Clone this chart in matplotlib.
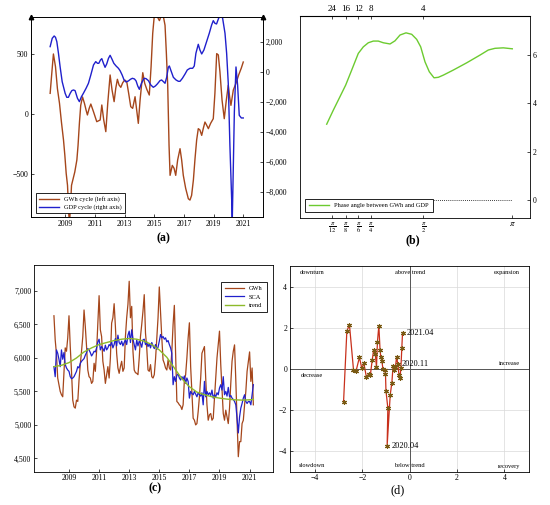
import matplotlib
matplotlib.use('Agg')
import matplotlib.pyplot as plt
from matplotlib.ticker import FuncFormatter

plt.rcParams['font.family'] = ['Liberation Serif', 'DejaVu Serif']
plt.rcParams['mathtext.fontset'] = 'stix'

GWH_C = '#A5461B'
BLUE = '#2020CC'
GREEN_B = '#6CCB30'
GREEN_T = '#8DBA2A'

# ---------------- (a) cycles ----------------
gwh_cyc_t = [2007.99, 2008.10, 2008.21, 2008.35, 2008.48, 2008.62, 2008.75, 2008.89, 2008.98, 2009.07,
             2009.16, 2009.25, 2009.30, 2009.38, 2009.43, 2009.65, 2009.79, 2009.87, 2009.96, 2010.05,
             2010.17, 2010.30, 2010.41, 2010.50, 2010.62, 2010.73, 2010.91, 2011.13, 2011.36, 2011.47,
             2011.60, 2011.74, 2011.87, 2012.03, 2012.16, 2012.30, 2012.41, 2012.52, 2012.63, 2012.75,
             2012.88, 2013.02, 2013.15, 2013.28, 2013.42, 2013.55, 2013.71, 2013.82, 2013.93, 2014.05,
             2014.23, 2014.36, 2014.50, 2014.67, 2014.79, 2014.90, 2014.99, 2015.08, 2015.21, 2015.35,
             2015.50, 2015.62, 2015.73, 2015.82, 2015.91, 2016.00, 2016.07, 2016.22, 2016.34, 2016.45,
             2016.58, 2016.74, 2016.85, 2016.96, 2017.12, 2017.30, 2017.41, 2017.52, 2017.64, 2017.75,
             2017.86, 2017.97, 2018.08, 2018.20, 2018.31, 2018.42, 2018.53, 2018.65, 2018.80, 2018.98,
             2019.09, 2019.21, 2019.32, 2019.43, 2019.57, 2019.72, 2019.86, 2019.99, 2020.08, 2020.17,
             2020.33, 2020.51, 2020.69, 2020.87, 2021.00]
gwh_cyc_v = [172, 339, 500, 394, 211, 89, -67, -217, -344, -494,
             -594, -844, -900, -717, -594, -483, -383, -261, -78, 72,
             142, 89, 33, -8, 47, 83, 19, -64, -50, 75,
             -50, -147, 89, 325, 200, 103, 214, 289, 242, 222,
             261, 283, 269, 172, 61, 47, 144, 33, -78, 117,
             344, 256, 206, 158, 394, 672, 797, 840, 811, 778,
             825, 811, 739, 506, 239, -261, -511, -428, -453, -511,
             -383, -289, -383, -511, -619, -706, -717, -678, -550, -372,
             -217, -122, -133, -178, -119, -67, -92, -122, -78, -39,
             172, 503, 492, 350, 117, -39, 117, 239, 144, 72,
             200, 256, 325, 383, 433]

gdp_cyc_t = [2007.99, 2008.13, 2008.26, 2008.35, 2008.44, 2008.55, 2008.66, 2008.80, 2009.00, 2009.11,
             2009.22, 2009.34, 2009.45, 2009.56, 2009.67, 2009.83, 2009.96, 2010.10, 2010.23, 2010.41,
             2010.57, 2010.73, 2010.91, 2011.06, 2011.18, 2011.27, 2011.38, 2011.47, 2011.58, 2011.69,
             2011.80, 2011.92, 2012.03, 2012.16, 2012.28, 2012.43, 2012.59, 2012.70, 2012.84, 2012.97,
             2013.10, 2013.26, 2013.40, 2013.53, 2013.67, 2013.78, 2013.89, 2014.00, 2014.14, 2014.32,
             2014.45, 2014.61, 2014.77, 2014.94, 2015.08, 2015.21, 2015.39, 2015.50, 2015.62, 2015.73,
             2015.84, 2015.95, 2016.02, 2016.13, 2016.29, 2016.47, 2016.63, 2016.74, 2016.90, 2017.08,
             2017.23, 2017.41, 2017.59, 2017.70, 2017.81, 2017.97, 2018.08, 2018.20, 2018.35, 2018.53,
             2018.71, 2018.87, 2018.98, 2019.09, 2019.20, 2019.34, 2019.48, 2019.61, 2019.77, 2019.88,
             2019.99, 2020.10, 2020.22, 2020.26, 2020.33, 2020.40, 2020.51, 2020.62, 2020.73, 2020.87,
             2021.00]
gdp_cyc_v = [1711, 2267, 2422, 2333, 2044, 1267, 378, -622, -1400, -1667,
             -1667, -1400, -1222, -1178, -1222, -1733, -1956, -1622, -1400, -1067,
             -733, -178, 489, 711, 600, 600, 822, 911, 600, 333,
             556, 933, 1133, 867, 600, 422, 267, 111, -178, -511,
             -644, -578, -467, -400, -444, -578, -911, -1133, -733, -400,
             -422, -556, -844, -1000, -911, -778, -556, -511, -622, -733,
             -333, 333, 422, 111, -333, -511, -600, -600, -400, -111,
             156, 267, 267, 422, 1267, 1867, 1489, 1222, 1489, 2044,
             2600, 3156, 3444, 3267, 3222, 3600, 3822, 3600, 2600, 1267,
             -733, -4867, -8500, -9850, -6300, -2644, 356, -867, -2867, -3044,
             -3044]

# ---------------- (b) phase angle ----------------
phase_x = [46.7, 53.3, 60.0, 65.7, 71.7, 78.3, 83.3, 88.3, 93.3, 98.3,
           103.3, 110.0, 115.0, 120.0, 126.0, 131.7, 136.7, 140.7, 145.0, 149.3,
           154.0, 158.3, 163.3, 173.3, 186.7, 200.0, 208.3, 215.0, 223.3, 232.3]
phase_y = [3.14, 3.72, 4.28, 4.76, 5.38, 6.07, 6.34, 6.51, 6.58, 6.58,
           6.51, 6.46, 6.59, 6.83, 6.92, 6.86, 6.65, 6.34, 5.72, 5.31,
           5.06, 5.08, 5.17, 5.38, 5.68, 6.00, 6.21, 6.28, 6.30, 6.26]
freq_tick_pos = [52.3, 65.7, 78.3, 91.0, 143.3, 232.3]
freq_tick_labels = [r'$\frac{\pi}{12}$', r'$\frac{\pi}{8}$', r'$\frac{\pi}{6}$',
                    r'$\frac{\pi}{4}$', r'$\frac{\pi}{2}$', r'$\pi$']
period_tick_labels = ['24', '16', '12', '8', '4']

# ---------------- (c) monthly series ----------------
gwh_monthly = [
    6630, 6270, 6060, 5700, 5600, 5500, 5450, 5420, 5800, 6150, 6100, 6300,   # 2008
    6630, 6170, 5800, 5370, 5270, 5250, 5370, 5350, 5670, 5900, 6100, 6320,   # 2009
    6716, 6470, 6170, 5820, 5720, 5700, 5620, 5650, 5920, 5800, 6100, 6500,   # 2010
    6930, 6420, 6320, 5950, 5820, 5620, 5750, 5870, 5700, 6000, 6520, 6600,   # 2011
    6810, 6470, 6070, 5850, 5770, 5870, 5950, 5800, 5850, 6320, 6600, 6800,   # 2012
    7145, 6600, 6770, 6100, 5820, 5780, 5770, 5750, 6000, 6320, 6500, 6700,   # 2013
    6945, 6370, 6150, 5820, 5800, 5900, 5720, 5700, 5750, 5980, 6300, 6600,   # 2014
    7060, 6670, 6300, 5970, 5920, 5850, 5820, 5970, 5850, 5820, 6100, 6500,   # 2015
    6785, 6070, 5350, 5330, 5300, 5280, 5230, 5300, 5670, 5750, 6000, 6300,   # 2016
    6525, 5870, 5500, 5100, 5070, 5000, 5020, 5200, 5420, 5700, 6070, 6120,   # 2017
    6170, 5700, 5300, 5070, 5150, 5170, 5070, 5100, 5400, 5700, 6000, 6200,   # 2018
    6400, 5900, 5520, 5170, 5070, 5220, 5120, 5020, 5250, 5620, 5950, 6100,   # 2019
    6195, 5670, 5070, 4525, 4750, 4750, 5020, 5070, 5300, 5500, 5800, 5950,   # 2020
    6090, 5650, 5850, 5300,                                                   # 2021
]
sca_monthly = [
    5870, 5720, 6120, 6070, 5980, 5870, 6120, 5980, 6080, 5900, 5850, 5820,   # 2008
    5800, 5720, 5690, 5700, 5720, 5760, 5800, 5870, 5850, 5920, 5950, 5970,   # 2009
    5990, 6040, 6080, 6140, 6120, 6080, 6030, 6060, 6100, 6090, 6150, 6240,   # 2010
    6280, 6120, 6170, 6140, 6100, 6190, 6120, 6150, 6200, 6180, 6240, 6150,   # 2011
    6200, 6290, 6180, 6340, 6230, 6200, 6250, 6180, 6230, 6270, 6200, 6340,   # 2012
    6400, 6230, 6420, 6280, 6200, 6120, 6270, 6180, 6250, 6220, 6160, 6270,   # 2013
    6280, 6200, 6240, 6170, 6210, 6150, 6230, 6180, 6140, 6200, 6130, 6160,   # 2014
    6250, 6350, 6300, 6320, 6280, 6300, 6240, 6260, 6200, 6150, 6070, 5600,   # 2015
    5720, 5650, 5740, 5760, 5700, 5670, 5720, 5680, 5730, 5620, 5700, 5650,   # 2016
    5400, 5500, 5470, 5450, 5500, 5460, 5420, 5480, 5450, 5430, 5480, 5300,   # 2017
    5650, 5420, 5500, 5450, 5480, 5440, 5520, 5400, 5450, 5420, 5480, 5450,   # 2018
    5550, 5600, 5520, 5720, 5450, 5500, 5430, 5560, 5420, 5440, 5400, 5380,   # 2019
    5350, 5300, 5100, 4880, 5120, 5250, 5320, 5400, 5450, 5350, 5320, 5350,   # 2020
    5350, 5300, 5450, 5600,                                                   # 2021
]
trend_t = [2008.0, 2008.5, 2009.0, 2009.5, 2010.0, 2010.5, 2011.0, 2011.5, 2012.0, 2012.5,
           2013.0, 2013.5, 2014.0, 2014.5, 2015.0, 2015.5, 2016.0, 2016.5, 2017.0, 2017.5,
           2018.0, 2018.5, 2019.0, 2019.5, 2020.0, 2020.5, 2021.0, 2021.25]
trend_v = [5870, 5890, 5930, 6000, 6090, 6150, 6200, 6230, 6260, 6280,
           6290, 6280, 6250, 6200, 6120, 6010, 5850, 5690, 5570, 5490,
           5450, 5420, 5400, 5385, 5375, 5370, 5375, 5380]
start_year = 2008

# ---------------- (d) cycle clock ----------------
clock_x = [-2.79, -2.65, -2.54, -2.37, -2.26, -2.12, -2.02, -1.93, -1.83, -1.72,
           -1.66, -1.58, -1.52, -1.45, -1.40, -1.36, -1.30, -1.25, -1.22, -1.17,
           -1.13, -1.06, -1.02, -1.00, -0.92, -0.95, -0.82, -0.75, -0.70, -0.66,
           -0.60, -0.55, -0.50, -0.45, -0.41, -0.37, -0.33, -0.30]
clock_y = [-1.61, 1.87, 2.16, -0.03, -0.08, 0.58, 0.05, 0.28, -0.36, -0.24,
           -0.30, 0.45, 0.93, 0.75, 0.10, 1.33, 2.13, 0.95, 0.62, 0.40,
           0.02, -0.03, -0.22, -1.05, -1.90, -3.73, -1.25, -0.65, 0.15, -0.05,
           0.10, 0.62, 0.25, -0.28, -0.44, 0.05, 1.05, 1.79]
clock_label_idx = [25, 32, 37]
clock_labels = ['2020.04', '2020.11', '2021.04']
quad_labels = ['downturn', 'above trend', 'expansion', 'decrease', 'increase',
               'slowdown', 'below trend', 'recovery']
quad_pos = [(-4.13, 4.71), (0.0, 4.71), (4.09, 4.72), (-4.13, -0.31), (4.23, 0.29),
            (-4.13, -4.71), (0.0, -4.71), (4.2, -4.74)]


def thousands(v, pos):
    s = f"{abs(v):,.0f}"
    return ('\u2212' + s) if v < 0 else s


def minus_int(v, pos):
    s = f"{abs(v):.0f}"
    return ('\u2212' + s) if v < 0 else s


TS = 5.6
fig = plt.figure(figsize=(5.5, 5.05), dpi=100)


def style(ax):
    for s in ax.spines.values():
        s.set_linewidth(0.6)
    ax.tick_params(direction='in', length=2.5, width=0.5, labelsize=TS, pad=2)


# ---- (a)
axa = fig.add_axes([31 / 550, 1 - 217 / 505, 232 / 550, 200 / 505])
la, = axa.plot(gwh_cyc_t, gwh_cyc_v, color=GWH_C, lw=1.0, label='GWh cycle (left axis)')
axa.set_xlim(2006.7, 2022.33)
axa.set_ylim(-858, 808)
axa.set_yticks([-500, 0, 500])
axa.yaxis.set_major_formatter(FuncFormatter(minus_int))
axa.set_xticks(range(2009, 2022, 2))
style(axa)
axa2 = axa.twinx()
lb, = axa2.plot(gdp_cyc_t, gdp_cyc_v, color=BLUE, lw=1.0, label='GDP cycle (right axis)')
axa2.set_ylim(-9647, 3687)
axa2.set_yticks([-8000, -6000, -4000, -2000, 0, 2000])
axa2.yaxis.set_major_formatter(FuncFormatter(thousands))
style(axa2)
axa2.plot([0, 1], [1, 1], transform=axa2.transAxes, ls='none', marker='^', ms=3.2,
          color='black', clip_on=False)
leg = axa2.legend(handles=[la, lb], loc='lower left', bbox_to_anchor=(0.02, 0.018),
                  borderaxespad=0, fontsize=4.6, fancybox=False, edgecolor='black',
                  framealpha=1, handlelength=3.2, borderpad=0.5, labelspacing=0.35)
leg.get_frame().set_linewidth(0.6)

# ---- (b)
axb = fig.add_axes([300 / 550, 1 - 217.7 / 505, 230 / 550, 202 / 505])
axb.plot(phase_x, phase_y, color=GREEN_B, lw=1.0, label='Phase angle between GWh and GDP')
axb.hlines(0, phase_x[0], phase_x[-1], colors='black', linestyles=(0, (1, 1.5)), lw=0.6)
axb.set_xlim(20, 250)
axb.set_ylim(-0.73, 7.63)
axb.yaxis.tick_right()
axb.set_yticks([0, 2, 4, 6])
axb.set_xticks(freq_tick_pos)
axb.set_xticklabels(freq_tick_labels, fontsize=6.5)
style(axb)
axb.tick_params(axis='x', labelsize=6.5)
top = axb.secondary_xaxis('top')
top.set_xticks(freq_tick_pos[:len(period_tick_labels)])
top.set_xticklabels(period_tick_labels)
top.tick_params(direction='in', length=2.5, width=0.5, labelsize=6.5, pad=2)
legb = axb.legend(loc='lower left', bbox_to_anchor=(0.022, 0.03), borderaxespad=0,
                  fontsize=4.6, fancybox=False, edgecolor='black', framealpha=1,
                  handlelength=3.2, borderpad=0.6)
legb.get_frame().set_linewidth(0.6)

# ---- (c)
months_x = [start_year + i / 12 for i in range(len(gwh_monthly))]
axc = fig.add_axes([34 / 550, 1 - 471.7 / 505, 239.3 / 550, 206.7 / 505])
axc.plot(months_x, gwh_monthly, color=GWH_C, lw=0.9, label='GWh')
axc.plot(months_x, sca_monthly, color=BLUE, lw=0.9, label='SCA')
axc.plot(trend_t, trend_v, color=GREEN_T, lw=1.0, label='trend')
axc.set_xlim(2006.675, 2022.575)
axc.set_ylim(4301, 7388)
axc.set_xticks(range(2009, 2022, 2))
axc.set_yticks(range(4500, 7001, 500))
axc.yaxis.set_major_formatter(FuncFormatter(thousands))
style(axc)
legc = axc.legend(loc='upper right', bbox_to_anchor=(0.972, 0.919), borderaxespad=0,
                  fontsize=4.6, fancybox=False, edgecolor='black', framealpha=1,
                  handlelength=3.0, borderpad=0.6, labelspacing=0.5)
legc.get_frame().set_linewidth(0.6)

# ---- (d)
axd = fig.add_axes([290 / 550, 1 - 471.7 / 505, 239.3 / 550, 206 / 505])
axd.set_xlim(-5.05, 5.05)
axd.set_ylim(-5.0, 5.05)
axd.set_xticks([-4, -2, 0, 2, 4])
axd.set_yticks([-4, -2, 0, 2, 4])
axd.xaxis.set_major_formatter(FuncFormatter(minus_int))
axd.yaxis.set_major_formatter(FuncFormatter(minus_int))
axd.grid(True, color='#d9d9d9', lw=0.5)
axd.set_axisbelow(True)
axd.axhline(0, color='#555555', lw=0.7, zorder=1.5)
axd.axvline(0, color='#555555', lw=0.7, zorder=1.5)
axd.plot(clock_x, clock_y, color='#C8301C', lw=0.9, marker=(6, 2, 0), ms=3.6,
         mec='#7A5A14', mew=0.8, zorder=3)
for idx, lbl in zip(clock_label_idx, clock_labels):
    axd.annotate(lbl, (clock_x[idx], clock_y[idx]), xytext=(3, 0), textcoords='offset points',
                 va='center', ha='left', fontsize=6)
for lbl, (qx, qy) in zip(quad_labels, quad_pos):
    axd.text(qx, qy, lbl, ha='center', va='center', fontsize=4.6)
style(axd)

# captions
fig.text(163 / 550, 1 - 238 / 505, '(a)', ha='center', va='center', fontsize=8.5, fontweight='bold')
fig.text(413 / 550, 1 - 240.5 / 505, '(b)', ha='center', va='center', fontsize=8.5, fontweight='bold')
fig.text(155 / 550, 1 - 488 / 505, '(c)', ha='center', va='center', fontsize=8.5, fontweight='bold')
fig.text(398 / 550, 1 - 490 / 505, '(d)', ha='center', va='center', fontsize=9)

fig.savefig('out.png', dpi=100)
